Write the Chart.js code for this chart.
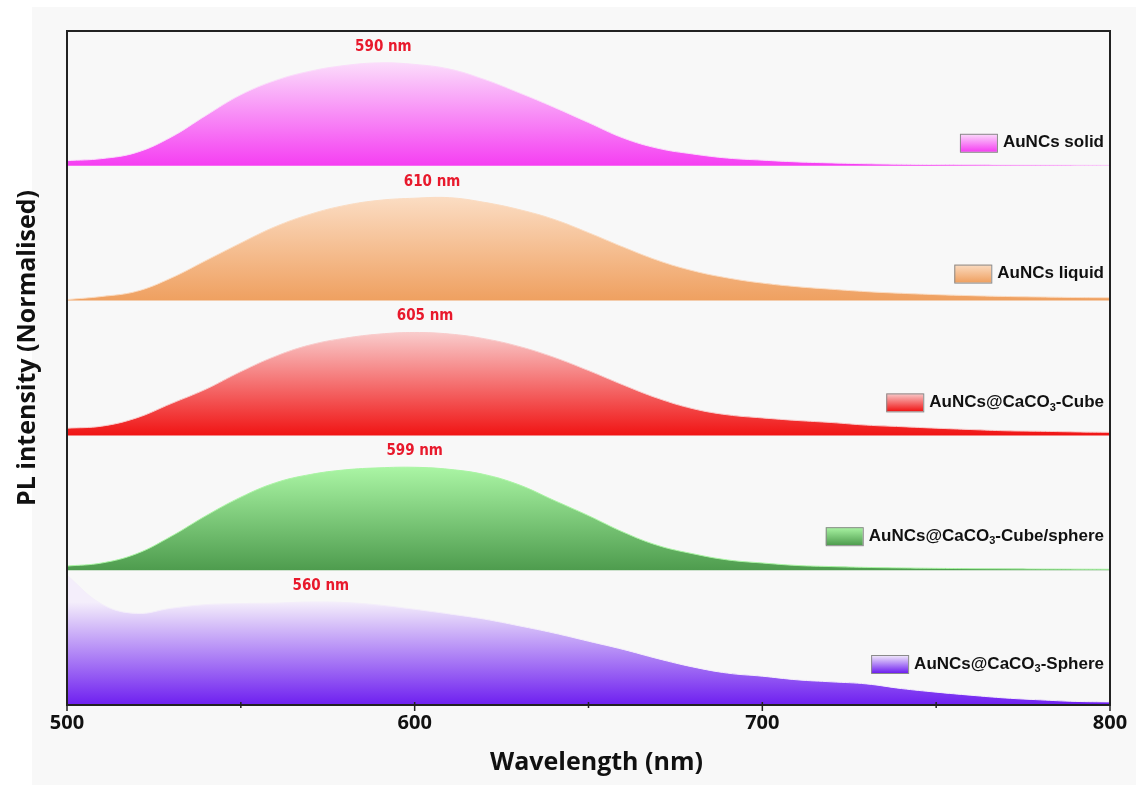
<!DOCTYPE html>
<html>
<head>
<meta charset="utf-8">
<script src="https://cdn.jsdelivr.net/npm/chart.js@4.4.1/dist/chart.umd.min.js"></script>
<style>
html,body{margin:0;padding:0;background:#ffffff;}
#wrap{width:1136px;height:785px;position:relative;}
</style>
</head>
<body>
<div id="wrap"><canvas id="c" width="1136" height="785"></canvas></div>
<script>
// ---- data ----
const wavelengths = [500,510,520,530,540,550,560,570,580,590,600,610,620,630,640,650,660,670,680,690,700,710,720,730,740,750,760,770,780,790,800];
const solid = [0.05,0.07,0.13,0.28,0.49,0.69,0.83,0.92,0.975,1.0,0.985,0.94,0.84,0.71,0.57,0.42,0.27,0.17,0.115,0.075,0.055,0.038,0.028,0.02,0.015,0.012,0.01,0.008,0.007,0.006,0.005];
const liquid = [0.01,0.04,0.09,0.22,0.39,0.56,0.72,0.84,0.925,0.975,0.995,1.0,0.955,0.885,0.79,0.66,0.52,0.39,0.29,0.22,0.17,0.135,0.11,0.087,0.071,0.058,0.048,0.04,0.035,0.03,0.028];
const cube = [0.07,0.09,0.17,0.31,0.45,0.62,0.77,0.88,0.945,0.985,1.0,0.985,0.94,0.865,0.76,0.63,0.49,0.36,0.26,0.2,0.17,0.145,0.125,0.1,0.085,0.07,0.057,0.045,0.04,0.034,0.03];
const cubeSphere = [0.04,0.07,0.16,0.33,0.53,0.71,0.85,0.93,0.975,0.995,1.0,0.98,0.93,0.83,0.68,0.53,0.37,0.24,0.16,0.1,0.07,0.046,0.035,0.027,0.022,0.018,0.015,0.013,0.011,0.01,0.009];
const sphere = [1.26,0.98,0.89,0.94,0.975,0.985,0.99,1.0,0.995,0.97,0.93,0.885,0.835,0.77,0.7,0.62,0.54,0.45,0.37,0.31,0.28,0.245,0.225,0.205,0.16,0.125,0.095,0.068,0.05,0.035,0.03];
const seriesNames = ['AuNCs solid','AuNCs liquid','AuNCs@CaCO₃-Cube','AuNCs@CaCO₃-Cube/sphere','AuNCs@CaCO₃-Sphere'];
const peakLabels = ['590 nm','610 nm','605 nm','599 nm','560 nm'];
const peakLabelAt = [591,605,603,600,573];
const xTicks = [500,600,700,800];
const xMinorTicks = [550,650,750];

// ---- styling ----
const S = 1.31; // vertical spacing between stacked spectra
const seriesValues = [solid, liquid, cube, cubeSphere, sphere];
const colorsBottom = ['#f53ef2','#efa060','#f01414','#4e9c4e','#6e1ff0'];
const colorsTop    = ['#fbdcfb','#fbdcc2','#f9cccc','#aaf5a4','#f4eefb'];
const legendOffsets = [23,27,33,34,41];

function makeGrad(ctx, y0, y1, i){
  const g = ctx.createLinearGradient(0, y0, 0, y1);
  g.addColorStop(0, colorsBottom[i]);
  g.addColorStop(1, colorsTop[i]);
  return g;
}

const datasets = seriesValues.map((vals, i) => {
  const base = (4 - i) * S;
  return {
    label: seriesNames[i],
    data: wavelengths.map((w, k) => ({x: w, y: base + vals[k]})),
    fill: {value: base},
    pointRadius: 0,
    borderWidth: 1,
    borderColor: colorsTop[i],
    tension: 0.4,
    backgroundColor: (c) => {
      const ch = c.chart;
      if (!ch.chartArea) return colorsBottom[i];
      const ys = ch.scales.y;
      return makeGrad(ch.ctx, ys.getPixelForValue(base), ys.getPixelForValue(base + 1.0), i);
    }
  };
});

function drawRich(ctx, text, xRight, yMid, size){
  const parts = text.split('₃');
  const mainFont = 'bold ' + size + 'px "Liberation Sans", Arial, sans-serif';
  const subFont = 'bold ' + Math.round(size*0.62) + 'px "Liberation Sans", Arial, sans-serif';
  let widths = [];
  let total = 0;
  parts.forEach((p, idx) => {
    ctx.font = mainFont; const w = ctx.measureText(p).width; widths.push(w); total += w;
    if (idx < parts.length - 1){ ctx.font = subFont; total += ctx.measureText('3').width; }
  });
  let x = xRight - total;
  const start = x;
  ctx.textBaseline = 'middle';
  ctx.textAlign = 'left';
  ctx.fillStyle = '#111';
  parts.forEach((p, idx) => {
    ctx.font = mainFont; ctx.fillText(p, x, yMid); x += widths[idx];
    if (idx < parts.length - 1){ ctx.font = subFont; ctx.fillText('3', x, yMid + size*0.3); x += ctx.measureText('3').width; }
  });
  return start;
}

const bgPlugin = {
  id: 'bg',
  beforeDraw(chart){
    const c = chart.ctx;
    c.save();
    c.fillStyle = '#ffffff'; c.fillRect(0, 0, chart.width, chart.height);
    c.fillStyle = '#f8f8f8'; c.fillRect(32, 7, chart.width - 32, chart.height - 7);
    c.restore();
  }
};

const decorPlugin = {
  id: 'decor',
  afterDatasetsDraw(chart){
    const c = chart.ctx;
    const a = chart.chartArea;
    const xs = chart.scales.x, ys = chart.scales.y;
    c.save();
    // frame
    c.strokeStyle = '#222'; c.lineWidth = 2;
    c.strokeRect(a.left, a.top, a.right - a.left, a.bottom - a.top);
    // ticks
    c.lineWidth = 1.5;
    xTicks.forEach(v => { const px = xs.getPixelForValue(v); c.beginPath(); c.moveTo(px, a.bottom - 3); c.lineTo(px, a.bottom + 6); c.stroke(); });
    xMinorTicks.forEach(v => { const px = xs.getPixelForValue(v); c.beginPath(); c.moveTo(px, a.bottom - 3); c.lineTo(px, a.bottom + 3); c.stroke(); });
    // peak labels
    c.fillStyle = '#e8192c';
    c.font = 'bold 15px "Liberation Sans Narrow", "DejaVu Sans Condensed", "Liberation Sans", Arial, sans-serif';
    c.textAlign = 'center'; c.textBaseline = 'middle';
    peakLabels.forEach((t, i) => {
      const base = (4 - i) * S;
      c.fillText(t, xs.getPixelForValue(peakLabelAt[i]), ys.getPixelForValue(base + 1.0) - 16);
    });
    // legends
    seriesNames.forEach((n, i) => {
      const base = (4 - i) * S;
      const yMid = ys.getPixelForValue(base) - legendOffsets[i];
      const start = drawRich(c, n, a.right - 6, yMid, 17);
      const bx = start - 43, bw = 37, bh = 18, by = yMid - 9;
      const g = c.createLinearGradient(0, by, 0, by + bh);
      g.addColorStop(0, colorsTop[i]); g.addColorStop(1, colorsBottom[i]);
      c.fillStyle = g; c.fillRect(bx, by, bw, bh);
      c.strokeStyle = '#8a8a8a'; c.lineWidth = 1; c.strokeRect(bx + 0.5, by + 0.5, bw, bh);
    });
    // axis titles
    c.fillStyle = '#111';
    c.font = 'bold 25px "Open Sans", Arial, sans-serif';
    c.textAlign = 'center'; c.textBaseline = 'middle';
    c.fillText('Wavelength (nm)', (a.left + a.right) / 2 + 8, 763);
    c.translate(28, 348); c.rotate(-Math.PI / 2);
    c.fillText('PL intensity (Normalised)', 0, 0);
    c.restore();
  }
};

new Chart(document.getElementById('c'), {
  type: 'line',
  data: { datasets },
  options: {
    responsive: false,
    devicePixelRatio: 1,
    animation: false,
    layout: { padding: { left: 67, right: 26, top: 31, bottom: 0 } },
    plugins: { legend: { display: false }, tooltip: { enabled: false } },
    scales: {
      x: {
        type: 'linear', min: 500, max: 800,
        afterFit: (s) => { s.height = 80; },
        afterBuildTicks: (s) => { s.ticks = xTicks.map(v => ({ value: v })); },
        grid: { display: false, drawTicks: false },
        border: { display: false },
        ticks: { padding: 6, color: '#111', font: { family: '"Open Sans", Arial, sans-serif', size: 20, weight: 'bold' }, maxRotation: 0 }
      },
      y: { display: false, min: 0, max: 5 * S }
    }
  },
  plugins: [bgPlugin, decorPlugin]
});
</script>
</body>
</html>
